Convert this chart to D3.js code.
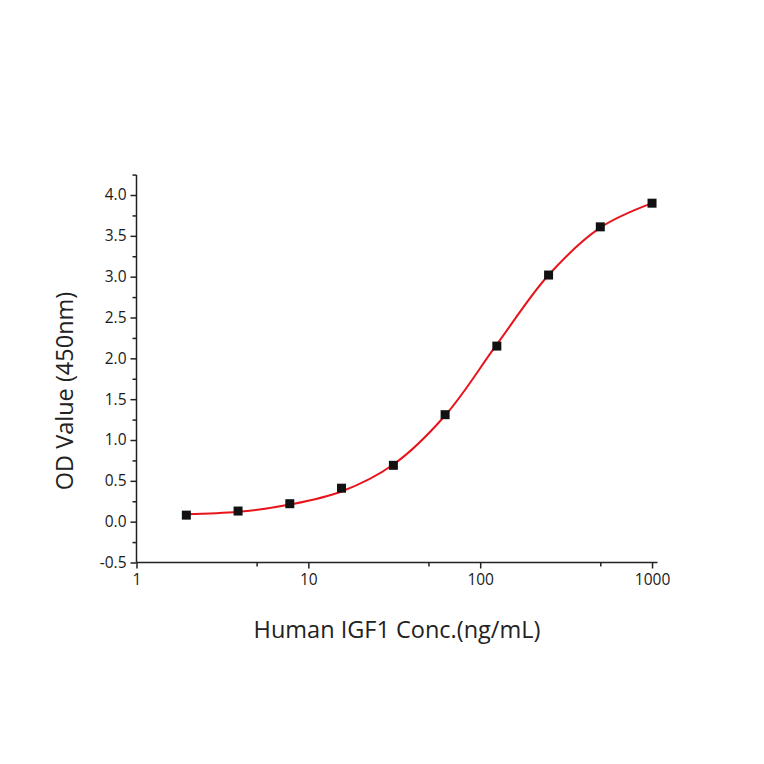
<!DOCTYPE html>
<html>
<head>
<meta charset="utf-8">
<script src="https://cdn.jsdelivr.net/npm/d3@7"></script>
<style>
  body { margin: 0; background: #fff; }
  text { font-family: "Open Sans", "Noto Sans", sans-serif; fill: #222; }
</style>
</head>
<body>
<script>
var w = 764, h = 764;

// standards (ng/mL) and measured OD
var conc = [1.95, 3.9, 7.8, 15.6, 31.25, 62.5, 125, 250, 500, 1000];
var od = [0.08, 0.13, 0.22, 0.41, 0.69, 1.31, 2.15, 3.02, 3.61, 3.90];
// fitted curve at the same concentrations
var fit = [0.09, 0.12, 0.21, 0.37, 0.70, 1.30, 2.17, 3.02, 3.60, 3.90];

var xTicks = [1, 10, 100, 1000];
var xMinor = [5, 50, 500];
var yTicks = [-0.5, 0, 0.5, 1, 1.5, 2, 2.5, 3, 3.5, 4];
var yMinor = [-0.25, 0.25, 0.75, 1.25, 1.75, 2.25, 2.75, 3.25, 3.75, 4.25];

var plotL = 136.5, plotR = 657.5, plotT = 175, plotB = 562.5;

var svg = d3.select("body")
  .append("svg")
  .attr("width", w)
  .attr("height", h);

var x = d3.scaleLog()
  .domain([1, 1076])
  .range([plotL, plotR]);

var y = d3.scaleLinear()
  .domain([-0.5, 4.245])
  .range([plotB, plotT]);

var xAxis = d3.axisBottom(x)
  .tickValues(xTicks)
  .tickFormat(d3.format("d"))
  .tickSize(6)
  .tickPadding(5);

var gx = svg.append("g")
  .attr("transform", "translate(0," + plotB + ")")
  .call(xAxis);
gx.select(".domain").attr("d", "M" + plotL + ",0H" + plotR);

svg.append("g")
  .attr("transform", "translate(0," + plotB + ")")
  .call(d3.axisBottom(x).tickValues(xMinor).tickFormat("").tickSize(4))
  .select(".domain").remove();

var yAxis = d3.axisLeft(y)
  .tickValues(yTicks)
  .tickFormat(function(d) { return d.toFixed(1); })
  .tickSize(6)
  .tickPadding(4);

var gy = svg.append("g")
  .attr("transform", "translate(" + plotL + ",0)")
  .call(yAxis);
gy.select(".domain").attr("d", "M0," + plotT + "V" + plotB);

svg.append("g")
  .attr("transform", "translate(" + plotL + ",0)")
  .call(d3.axisLeft(y).tickValues(yMinor).tickFormat("").tickSize(4))
  .select(".domain").remove();

svg.selectAll(".domain, .tick line")
  .attr("stroke", "#222")
  .attr("stroke-width", 1.5);

svg.selectAll(".tick text")
  .style("font-size", "15.5px")
  .style("fill", "#1a1a1a");

var line = d3.line()
  .x(function(d, i) { return x(conc[i]); })
  .y(function(d) { return y(d); })
  .curve(d3.curveCatmullRom.alpha(0.5));

svg.append("path")
  .datum(fit)
  .attr("fill", "none")
  .attr("stroke", "#e8141b")
  .attr("stroke-width", 2)
  .attr("d", line);

svg.selectAll(".pt")
  .data(od)
  .enter()
  .append("rect")
  .attr("class", "pt")
  .attr("x", function(d, i) { return x(conc[i]) - 4.5; })
  .attr("y", function(d) { return y(d) - 4.5; })
  .attr("width", 9)
  .attr("height", 9)
  .attr("fill", "#111");

svg.append("text")
  .attr("text-anchor", "middle")
  .attr("x", 397)
  .attr("y", 638)
  .style("font-size", "23.5px")
  .text("Human IGF1 Conc.(ng/mL)");

svg.append("text")
  .attr("text-anchor", "middle")
  .attr("transform", "translate(73,391) rotate(-90)")
  .style("font-size", "23.5px")
  .text("OD Value (450nm)");
</script>
</body>
</html>
